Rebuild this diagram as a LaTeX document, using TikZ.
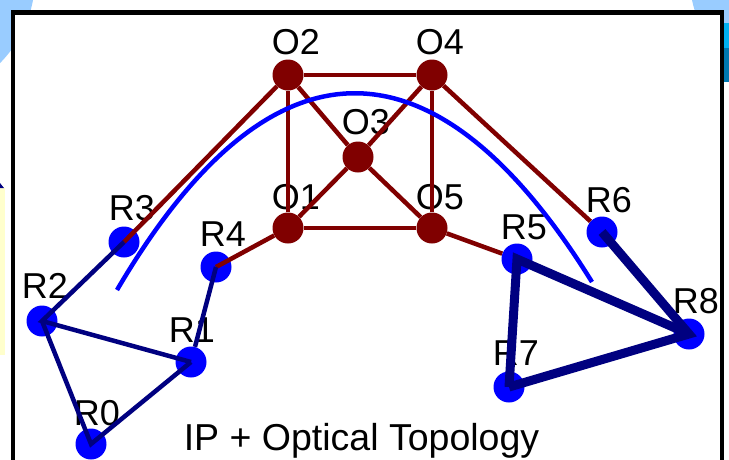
\documentclass[tikz,border=0pt]{standalone}
\usepackage{fontspec}
\setmainfont{Liberation Sans}
\definecolor{opt-red}{HTML}{800000}
\definecolor{ip-navy}{HTML}{000080}
\definecolor{rtr-blue}{HTML}{0000FF}
\definecolor{sky}{HTML}{99CCFF}
\definecolor{pale-yellow}{HTML}{FFFFCC}
\definecolor{cyan-tab}{HTML}{00B0F0}
\definecolor{teal-tab}{HTML}{0078B0}

\begin{document}
\begin{tikzpicture}[x=1pt, y=-1pt,
      every node/.style={font=\fontsize{36}{42}\selectfont},
      onode/.style={circle, fill=opt-red, inner sep=0pt, minimum size=31pt},
      rnode/.style={circle, fill=rtr-blue, inner sep=0pt, minimum size=31pt},
      lbl/.style={anchor=base, inner sep=0pt},
      optlink/.style={opt-red, line width=4.5pt},
      iplink/.style={ip-navy, line width=4.5pt},
      ipfat/.style={ip-navy, line width=9pt}]
    \useasboundingbox (0,0) rectangle (729,459);
    \fill[sky] (-86,-22) circle[radius=121];
    \fill[sky] (790,-20) circle[radius=100];
    \fill[cyan-tab] (724,23) rectangle (729,48);
    \fill[teal-tab] (724,48) rectangle (729,82);
    \fill[pale-yellow] (0,188) rectangle (5,355);
    \fill[ip-navy] (0,183) -- (4,188) -- (0,188) -- cycle;
    \draw[line width=4.7pt, fill=white] (13,12.5) rectangle (722,480);
    \foreach \n/\x/\y/\dx/\dy in {O1/288/228/8/19, O2/288/75/8/21, O3/358/157/8/23,
                                  O4/432/75/8/21, O5/432/228/8/19} {
      \node[onode] (\n) at (\x,\y) {};
      \node[lbl] (l\n) at (\x+\dx,\y-\dy) {\n};
    }
    \foreach \n/\x/\y/\dx/\dy in {R0/91/444/6/19, R1/191/362/1/20, R2/42/321/3/23,
                                  R3/124/242/8/22, R4/216/267/7/21, R5/517/259/7/20,
                                  R6/602/232/7/20, R7/509/387/7/22, R8/689/334/7/21} {
      \node[rnode] (\n) at (\x,\y) {};
      \node[lbl] (l\n) at (\x+\dx,\y-\dy) {\n};
    }
    \draw[optlink] (O2) -- (O4) -- (O5) -- (O1) -- (O2);
    \draw[optlink] (O2) -- (O3) -- (O5);
    \draw[optlink] (O4) -- (O3) -- (O1);
    \draw[optlink] (O2) -- (R3.center);
    \draw[optlink] (O1) -- (R4.center);
    \draw[optlink] (O5) -- (R5);
    \draw[optlink] (O4) -- (R6);
    \draw[iplink] (R3.center) -- (R2.center) -- (R1.center);
    \draw[iplink] (R2.center) -- (R0.center) -- (R1.center);
    \draw[iplink] (R4.center) -- (R1);
    \draw[ipfat] (R7.center) -- (R5.center) -- (R8.center);
    \draw[ipfat] (R6.center) -- (R8.center) -- (R7.center);
    \coordinate (arcL) at (117,290);
    \coordinate (arcR) at (592,282);
    \draw[rtr-blue, line width=4.5pt] (arcL) .. controls (270,29) and (435,29) .. (arcR);
    \node[lbl, font=\fontsize{37.5}{44}\selectfont] (title) at (361.5,450) {IP + Optical Topology};
  \end{tikzpicture}
\end{document}
